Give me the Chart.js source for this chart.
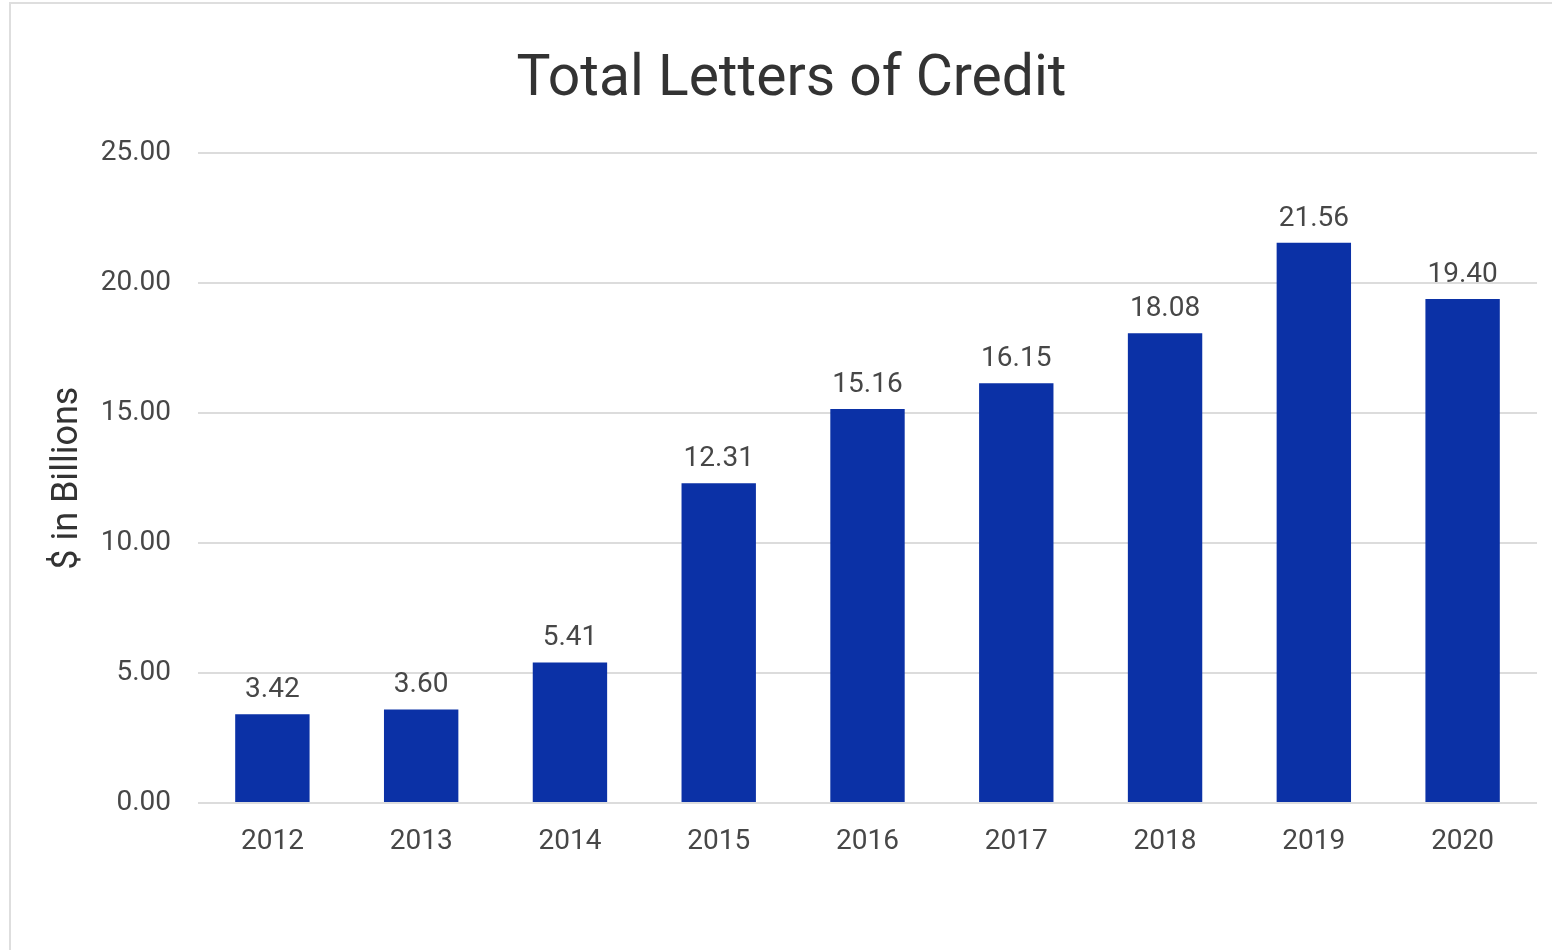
<!DOCTYPE html>
<html>
<head>
<meta charset="utf-8">
<title>Total Letters of Credit</title>
<script src="https://cdn.jsdelivr.net/npm/chart.js@4.4.1/dist/chart.umd.min.js"></script>
<style>
  html, body { margin: 0; padding: 0; background: #fff; overflow: hidden; }
  #wrap { position: relative; width: 1552px; height: 950px; }
  #frame {
    position: absolute; left: 9px; top: 2px; width: 1600px; height: 1000px;
    border: 2px solid #dedede; pointer-events: none;
  }
  canvas { position: absolute; left: 0; top: 0; }
</style>
</head>
<body>
<div id="wrap">
  <canvas id="locChart" width="1552" height="950"></canvas>
  <div id="frame"></div>
</div>
<script>
// Data
const years = ['2012', '2013', '2014', '2015', '2016', '2017', '2018', '2019', '2020'];
const lettersOfCredit = [3.42, 3.60, 5.41, 12.31, 15.16, 16.15, 18.08, 21.56, 19.40];
const yTicks = [0, 5, 10, 15, 20, 25];

const textColor = '#474747';

// Value labels above each bar
const barLabels = {
  id: 'barLabels',
  afterDatasetsDraw(chart) {
    const ctx = chart.ctx;
    const meta = chart.getDatasetMeta(0);
    ctx.save();
    ctx.font = '28px Roboto';
    ctx.fillStyle = textColor;
    ctx.textAlign = 'center';
    ctx.textBaseline = 'alphabetic';
    meta.data.forEach((bar, i) => {
      ctx.fillText(lettersOfCredit[i].toFixed(2), bar.x, bar.y - 17);
    });
    ctx.restore();
  }
};

const ctx = document.getElementById('locChart').getContext('2d');
new Chart(ctx, {
  type: 'bar',
  data: {
    labels: years,
    datasets: [{
      label: 'Total Letters of Credit',
      data: lettersOfCredit,
      backgroundColor: '#0b31a6',
      borderWidth: 0,
      categoryPercentage: 1.0,
      barPercentage: 0.5
    }]
  },
  options: {
    responsive: false,
    animation: false,
    devicePixelRatio: 1,
    layout: { padding: { left: 46, right: 15, top: 47, bottom: 0 } },
    plugins: {
      legend: { display: false },
      tooltip: { enabled: false },
      title: {
        display: true,
        text: 'Total Letters of Credit',
        color: '#333333',
        font: { family: 'Roboto', size: 57, weight: 'normal' },
        padding: { top: 0, bottom: 38 }
      }
    },
    scales: {
      x: {
        grid: { display: false, drawTicks: false },
        border: { display: false },
        ticks: {
          color: textColor,
          font: { family: 'Roboto', size: 28 },
          padding: 22,
          maxRotation: 0
        },
        afterFit(scale) { scale.height = 147; }
      },
      y: {
        min: 0,
        max: 25,
        afterBuildTicks(scale) { scale.ticks = yTicks.map(v => ({ value: v })); },
        grid: { color: '#dcdcdc', lineWidth: 2, drawTicks: false },
        border: { display: false },
        ticks: {
          color: textColor,
          font: { family: 'Roboto', size: 28 },
          padding: 27,
          callback: v => Number(v).toFixed(2)
        },
        title: {
          display: true,
          text: '$ in Billions',
          color: '#333333',
          font: { family: 'Roboto', size: 36 },
          padding: { top: 0, bottom: 0 }
        },
        afterFit(scale) { scale.width = 152; }
      }
    }
  },
  plugins: [barLabels]
});
</script>
</body>
</html>
